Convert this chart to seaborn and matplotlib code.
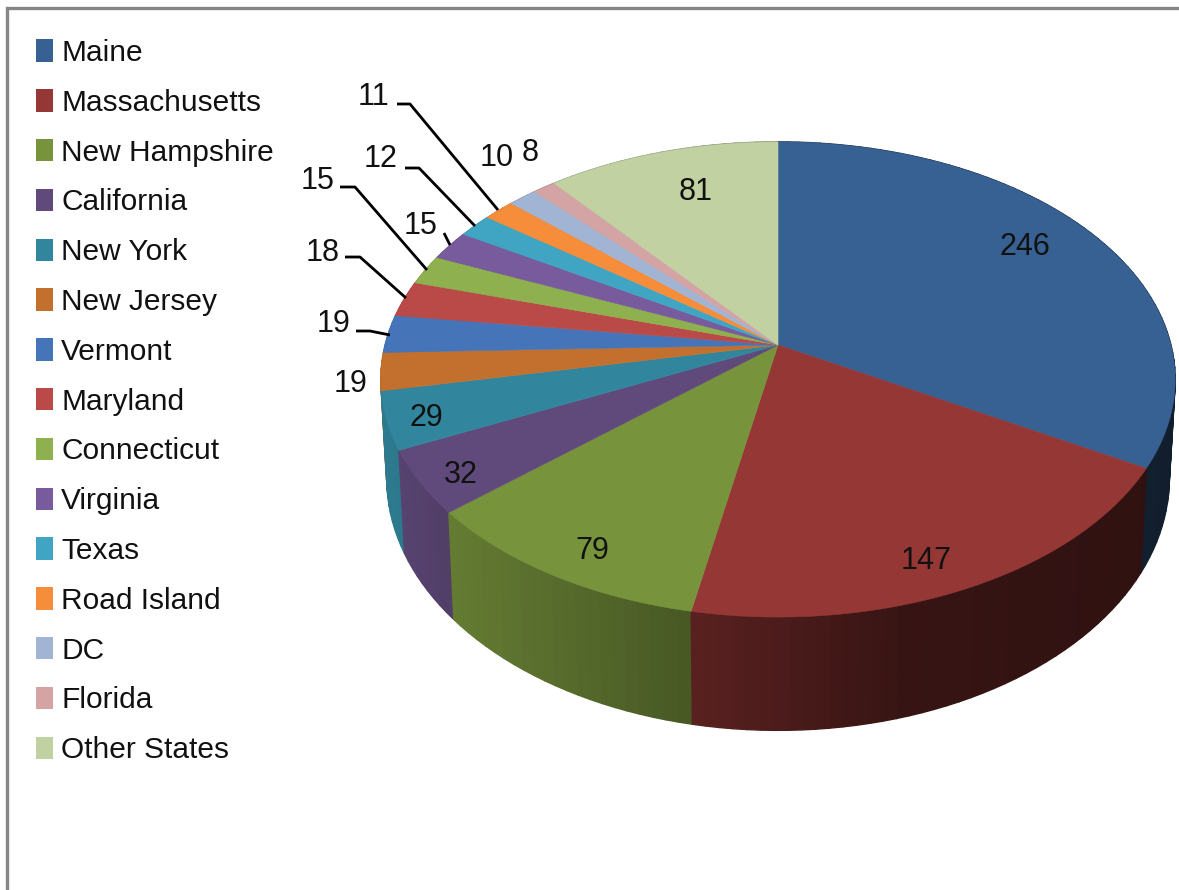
# -*- coding: utf-8 -*-
# Perspective 3D pie of counts per state, drawn in pixel coordinates
import numpy as np
import seaborn as sns
import matplotlib.pyplot as plt
from matplotlib.patches import Patch

states = ['Maine', 'Massachusetts', 'New Hampshire', 'California', 'New York',
          'New Jersey', 'Vermont', 'Maryland', 'Connecticut', 'Virginia',
          'Texas', 'Road Island', 'DC', 'Florida', 'Other States']
counts = [246, 147, 79, 32, 29, 19, 19, 18, 15, 15, 12, 11, 10, 8, 81]
colors = ['#386193', '#953735', '#77933C', '#604A7B', '#31859C',
          '#C3702E', '#4575B8', '#B94A48', '#8FB04E', '#775B9C',
          '#40A5C3', '#F68D3B', '#A1B4D3', '#D4A3A3', '#C1D1A2']

# label centres, same order as counts
label_x = [1025, 926, 592, 461, 426, 351, 334, 323, 318, 421, 381, 374, 497, 530, 696]
label_y = [247, 561, 551, 475, 418, 384, 324, 253, 181, 226, 159, 97, 158, 153, 192]

leaders = [[(356, 331), (370, 331), (390, 335)],
           [(345, 257), (360, 257), (406, 298)],
           [(340, 187), (355, 187), (427, 270)],
           [(444, 233), (450, 245)],
           [(405, 168), (419, 168), (475, 226)],
           [(397, 104), (410, 104), (498, 210)]]

CX, CY = 778, 345
RX, RY, PERSP = 393, 232.6, 0.145


def top_face(theta):
    # theta is clockwise from 12 o'clock, circle goes through a projective map
    u, v = np.sin(theta), np.cos(theta)
    d = 1 + PERSP * v
    return CX + RX * u / d, CY - RY * v / d


def bottom_face(theta):
    x, y = top_face(theta)
    return CX + (x - CX) * 0.985, CY + (y - CY) * 1.06 + 97


def shade(color, x):
    # side wall gets darker towards the right
    f = np.interp(x, [387, 450, 692, 900, 1180], [0.92, 0.84, 0.60, 0.37, 0.31])
    return tuple(np.array(sns.desaturate(color, 1.0)) * f)


sns.set_theme(style='white')
plt.rcParams['font.family'] = ['Liberation Sans Narrow', 'Liberation Sans', 'DejaVu Sans']

fig = plt.figure(figsize=(11.79, 8.90), dpi=100)
ax = fig.add_axes([0, 0, 1, 1])
ax.set_xlim(0, 1179)
ax.set_ylim(890, 0)
ax.axis('off')

# slice limits
edges = np.cumsum([0] + counts) / sum(counts) * 2 * np.pi

# side walls first, small strips sorted back to front
strips = []
for i in range(len(counts)):
    steps = max(2, int((edges[i + 1] - edges[i]) / 0.03))
    th = np.linspace(edges[i], edges[i + 1], steps + 1)
    for a, b in zip(th[:-1], th[1:]):
        strips.append((top_face((a + b) / 2)[1], a, b, colors[i]))
strips.sort(key=lambda s: s[0])
for _, a, b, col in strips:
    x1, y1 = top_face(np.array([a, b]))
    x2, y2 = bottom_face(np.array([b, a]))
    fc = shade(col, x1.mean())
    ax.fill(np.r_[x1, x2], np.r_[y1, y2], color=fc, lw=1.0, zorder=2)

# top face
for i in range(len(counts)):
    th = np.linspace(edges[i], edges[i + 1], 80)
    x, y = top_face(th)
    ax.fill(np.r_[CX, x], np.r_[CY, y], color=colors[i], lw=0.4, zorder=3)

for pts in leaders:
    xs, ys = zip(*pts)
    ax.plot(xs, ys, color='black', lw=2.0, solid_capstyle='butt', zorder=4)

for val, lx, ly in zip(counts, label_x, label_y):
    ax.text(lx, ly, str(val), ha='center', va='center', fontsize=22,
            color='#111111', zorder=5)

# frame is only visible on the left and the top
ax.plot([7, 7, 1179], [890, 8, 8], color='#868686', lw=2.4,
        solid_joinstyle='miter', zorder=1)

handles = [Patch(facecolor=c, edgecolor='none') for c in colors]
leg = ax.legend(handles, states, loc='upper left', bbox_to_anchor=(36 / 1179, 1 - 39 / 890),
                frameon=False, fontsize=21.5, labelspacing=0.73, borderpad=0,
                borderaxespad=0, handlelength=0.56, handleheight=0.77,
                handletextpad=0.28, labelcolor='#111111')

fig.savefig('out.png', dpi=100)
